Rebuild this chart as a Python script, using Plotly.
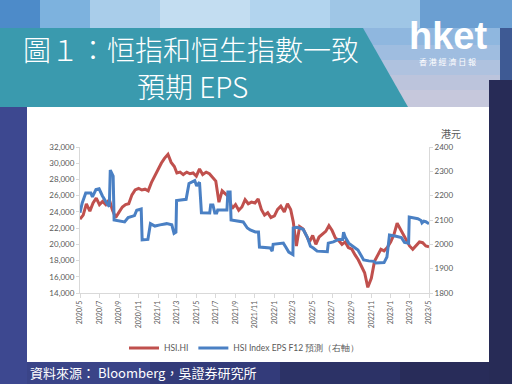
import plotly.graph_objects as go

# ---------------- data ----------------
hsi_dates = [
    "2020-05-01", "2020-05-11", "2020-05-21", "2020-06-01", "2020-06-11", "2020-06-21",
    "2020-07-01", "2020-07-11", "2020-07-21", "2020-08-01", "2020-08-11", "2020-08-21",
    "2020-09-01", "2020-09-11", "2020-09-21", "2020-10-01", "2020-10-11", "2020-10-21",
    "2020-11-01", "2020-11-11", "2020-11-21", "2020-12-01", "2020-12-11", "2020-12-21",
    "2021-01-01", "2021-01-11", "2021-01-21", "2021-02-01", "2021-02-11", "2021-02-21",
    "2021-03-01", "2021-03-11", "2021-03-21", "2021-04-01", "2021-04-11", "2021-04-21",
    "2021-05-01", "2021-05-11", "2021-05-21", "2021-06-01", "2021-06-11", "2021-06-21",
    "2021-07-01", "2021-07-11", "2021-07-21", "2021-08-01", "2021-08-11", "2021-08-21",
    "2021-09-01", "2021-09-11", "2021-09-21", "2021-10-01", "2021-10-11", "2021-10-21",
    "2021-11-01", "2021-11-11", "2021-11-21", "2021-12-01", "2021-12-11", "2021-12-21",
    "2022-01-01", "2022-01-11", "2022-01-21", "2022-02-01", "2022-02-11", "2022-02-21",
    "2022-03-01", "2022-03-11", "2022-03-21", "2022-04-01", "2022-04-11", "2022-04-21",
    "2022-05-01", "2022-05-11", "2022-05-21", "2022-06-01", "2022-06-11", "2022-06-21",
    "2022-07-01", "2022-07-11", "2022-07-21", "2022-08-01", "2022-08-11", "2022-08-21",
    "2022-09-01", "2022-09-11", "2022-09-21", "2022-10-01", "2022-10-11", "2022-10-21",
    "2022-11-01", "2022-11-11", "2022-11-21", "2022-12-01", "2022-12-11", "2022-12-21",
    "2023-01-01", "2023-01-11", "2023-01-21", "2023-02-01", "2023-02-11", "2023-02-21",
    "2023-03-01", "2023-03-11", "2023-03-21", "2023-04-01", "2023-04-11", "2023-04-21",
    "2023-05-01",
]
hsi_values = [
    23100, 23600, 25000, 24100, 25100, 25700,
    24900, 25300, 24900, 25500, 24200, 23300,
    24000, 24600, 24900, 25000, 26100, 26700,
    26900, 26700, 26800, 26600, 27600, 28400,
    29300, 30000, 30600, 31100, 30100, 29600,
    28800, 28900, 28600, 28900, 28700, 28800,
    28400, 29300, 28600, 28900, 28700, 28300,
    27800, 25200, 26600, 26200, 25800, 24400,
    24900, 24200, 24600, 25500, 25000, 25200,
    25100, 25600, 24300, 23600, 23900, 23300,
    23500, 24300, 24700, 24000, 25000, 24300,
    22800, 19800, 22200, 21900, 21000, 20300,
    21100, 20000, 20900, 21300, 21600, 22300,
    21700, 20800, 20500, 20000, 20300, 19600,
    19400, 18700, 18100, 17300, 16500, 14700,
    15800, 17900, 18600, 19400, 19200, 19600,
    20300, 21200, 22600, 21800, 21000, 20300,
    19800, 19400, 19800, 20300, 20200, 19800,
    19700,
]

eps_dates = [
    "2020-05-01", "2020-05-08", "2020-05-19", "2020-06-04", "2020-06-09", "2020-06-20",
    "2020-06-30", "2020-07-10", "2020-07-26", "2020-08-01", "2020-08-04", "2020-08-10",
    "2020-08-13", "2020-08-16", "2020-09-18", "2020-09-29", "2020-10-19", "2020-10-26",
    "2020-11-09", "2020-11-12", "2020-11-30", "2020-12-08", "2020-12-22", "2021-01-07",
    "2021-01-28", "2021-02-13", "2021-02-20", "2021-02-26", "2021-02-28", "2021-03-30",
    "2021-04-08", "2021-04-26", "2021-05-02", "2021-05-11", "2021-05-17", "2021-06-12",
    "2021-06-15", "2021-06-22", "2021-06-28", "2021-07-04", "2021-07-07", "2021-08-05",
    "2021-08-08", "2021-08-15", "2021-08-18", "2021-09-25", "2021-10-08", "2021-10-17",
    "2021-11-02", "2021-11-12", "2021-11-15", "2021-12-19", "2021-12-25", "2021-12-28",
    "2022-01-29", "2022-02-05", "2022-02-15", "2022-02-28", "2022-03-01", "2022-03-13",
    "2022-04-01", "2022-04-14", "2022-04-24", "2022-05-03", "2022-05-15", "2022-06-16",
    "2022-06-19", "2022-07-05", "2022-07-21", "2022-08-03", "2022-08-06", "2022-08-11",
    "2022-08-22", "2022-09-20", "2022-10-08", "2022-10-24", "2022-11-09", "2022-11-16",
    "2022-12-11", "2022-12-20", "2022-12-23", "2022-12-28", "2023-01-18", "2023-02-03",
    "2023-02-13", "2023-02-26", "2023-02-28", "2023-03-27", "2023-04-06", "2023-04-09",
    "2023-04-15", "2023-04-21", "2023-05-01",
]
eps_values = [
    2130, 2170, 2211, 2211, 2195, 2225,
    2228, 2200, 2165, 2155, 2305, 2290,
    2280, 2100, 2092, 2110, 2118, 2140,
    2145, 2018, 2020, 2085, 2075, 2080,
    2085, 2080, 2045, 2050, 2180, 2185,
    2250, 2262, 2240, 2255, 2130, 2129,
    2162, 2162, 2129, 2129, 2141, 2141,
    2215, 2215, 2100, 2092, 2067, 2059,
    2051, 2051, 1989, 1985, 1972, 2000,
    2005, 1990, 1968, 1958, 2067, 2070,
    2062, 2030, 1992, 1985, 1972, 1970,
    2005, 2010, 2020, 2020, 2050, 2030,
    2005, 1977, 1936, 1932, 1930, 1923,
    1925, 1948, 1989, 2038, 2033, 2028,
    2008, 2005, 2112, 2105, 2098, 2088,
    2095, 2093, 2085,
]

tick_dates = [
    "2020-05-01", "2020-07-01", "2020-09-01", "2020-11-01", "2021-01-01", "2021-03-01",
    "2021-05-01", "2021-07-01", "2021-09-01", "2021-11-01", "2022-01-01", "2022-03-01",
    "2022-05-01", "2022-07-01", "2022-09-01", "2022-11-01", "2023-01-01", "2023-03-01",
    "2023-05-01",
]
tick_labels = [
    "2020/5", "2020/7", "2020/9", "2020/11", "2021/1", "2021/3",
    "2021/5", "2021/7", "2021/9", "2021/11", "2022/1", "2022/3",
    "2022/5", "2022/7", "2022/9", "2022/11", "2023/1", "2023/3",
    "2023/5",
]

series_names = ["HSI.HI", "HSI Index EPS F12 預測（右軸）"]
title_lines = ["圖１：恒指和恒生指數一致", "預期 EPS"]
source_text = "資料來源： Bloomberg，吳證券研究所"

# ---------------- layout geometry ----------------
W, H = 512, 384
PL, PR, PT, PB = 80, 429, 147, 293  # plot area in pixels


def fx(px):
    return (px - PL) / (PR - PL)


def fy(py):
    return (PB - py) / (PB - PT)


def rect(x0, y0, x1, y1, color):
    return dict(type="rect", xref="paper", yref="paper",
                x0=fx(x0), x1=fx(x1), y0=fy(y1), y1=fy(y0),
                fillcolor=color, line=dict(width=0), layer="below")


def poly(points, color):
    d = "M " + " L ".join(f"{fx(a)},{fy(b)}" for a, b in points) + " Z"
    return dict(type="path", xref="paper", yref="paper", path=d,
                fillcolor=color, line=dict(width=0), layer="below")


shapes = []
# sky band at top
sky = [(0, 40, "#4d8bc9"), (40, 90, "#7db2de"), (90, 160, "#a9cdea"), (160, 250, "#c3ddf1"),
       (250, 330, "#b2d4ee"), (330, 420, "#9fc6e6"), (420, 512, "#6b9fd2")]
for a, b, c in sky:
    shapes.append(rect(a, 0, b, 30, c))
# right header area gradient
hdr = [(28, 45, "#8fb7df"), (45, 60, "#9fbde0"), (60, 75, "#afc2df"), (75, 90, "#bcc4dc"),
       (90, 107, "#c6c8dc")]
for a, b, c in hdr:
    shapes.append(rect(360, a, 512, b, c))
# right dark strip
shapes.append(rect(489, 80, 512, 384, "#272b56"))
shapes.append(rect(500, 28, 512, 80, "#3e5a94"))
# left strip
shapes.append(rect(0, 100, 27, 384, "#3d4890"))
# bottom band
bot = [(27, 150, "#3a4488"), (150, 280, "#333b7a"), (280, 400, "#2c3266"), (400, 489, "#282c59")]
for a, b, c in bot:
    shapes.append(rect(a, 362, b, 384, c))
# teal title banner
shapes.append(poly([(0, 28), (363, 28), (408, 107), (0, 107)], "#3a9aae"))
# white chart panel
shapes.append(rect(27, 107, 489, 362, "#ffffff"))

AXIS_GRAY = "#d9d9d9"
TEXT_GRAY = "#595959"
FONT = "Lato, Liberation Sans, sans-serif"
CJK = "Noto Sans CJK TC, Noto Sans CJK SC, sans-serif"

fig = go.Figure()
fig.add_trace(go.Scatter(x=hsi_dates, y=hsi_values, name=series_names[0], mode="lines",
                         line=dict(color="#c0504d", width=3), yaxis="y"))
fig.add_trace(go.Scatter(x=eps_dates, y=eps_values, name=series_names[1], mode="lines",
                         line=dict(color="#4a80c4", width=3), yaxis="y2"))

annotations = [
    dict(text=title_lines[0], x=fx(191), y=fy(49), xref="paper", yref="paper",
         showarrow=False, font=dict(family=CJK, size=28, color="white", weight=300),
         xanchor="center", yanchor="middle"),
    dict(text=title_lines[1], x=fx(192), y=fy(86), xref="paper", yref="paper",
         showarrow=False, font=dict(family=CJK, size=28, color="white", weight=300),
         xanchor="center", yanchor="middle"),
    dict(text="<b>hket</b>", x=fx(448), y=fy(36), xref="paper", yref="paper",
         showarrow=False, font=dict(family="Liberation Sans, Arial, sans-serif", size=38, color="white"),
         xanchor="center", yanchor="middle"),
    dict(text="香 港 經 濟 日 報", x=fx(448), y=fy(62), xref="paper", yref="paper",
         showarrow=False, font=dict(family=CJK, size=8, color="white"),
         xanchor="center", yanchor="middle"),
    dict(text="港元", x=fx(439), y=fy(133), xref="paper", yref="paper",
         showarrow=False, font=dict(family=CJK, size=10, color=TEXT_GRAY),
         xanchor="left", yanchor="middle"),
    dict(text=source_text, x=fx(28), y=fy(372), xref="paper", yref="paper",
         showarrow=False, font=dict(family=CJK, size=13, color="white"),
         xanchor="left", yanchor="middle"),
]

fig.update_layout(
    width=W, height=H,
    margin=dict(l=PL, r=W - PR, t=PT, b=H - PB, pad=0),
    paper_bgcolor="#2a2e5a",
    plot_bgcolor="rgba(0,0,0,0)",
    shapes=shapes,
    annotations=annotations,
    showlegend=True,
    legend=dict(orientation="h", x=fx(124), y=fy(348), xanchor="left", yanchor="middle",
                font=dict(family=FONT, size=8.5, color=TEXT_GRAY), bgcolor="rgba(0,0,0,0)",
                itemwidth=30, tracegroupgap=0),
    xaxis=dict(type="date", range=["2020-05-01", "2023-05-01"], tickmode="array",
               tickvals=tick_dates, ticktext=tick_labels, tickangle=-90,
               tickfont=dict(family=FONT, size=7, color=TEXT_GRAY),
               showgrid=False, zeroline=False, showline=True, linecolor=AXIS_GRAY, linewidth=1,
               ticks="outside", ticklen=4, tickcolor=AXIS_GRAY, automargin=False),
    yaxis=dict(range=[14000, 32000], dtick=2000, tick0=14000, tickformat=",d",
               tickfont=dict(family=FONT, size=8, color=TEXT_GRAY),
               showgrid=False, zeroline=False, showline=True, linecolor=AXIS_GRAY, linewidth=1,
               ticks="outside", ticklen=3, tickcolor=AXIS_GRAY, automargin=False),
    yaxis2=dict(range=[1800, 2400], dtick=100, tick0=1800, tickformat="d", overlaying="y",
                side="right", tickfont=dict(family=FONT, size=8, color=TEXT_GRAY),
                showgrid=False, zeroline=False, showline=True, linecolor=AXIS_GRAY, linewidth=1,
                ticks="outside", ticklen=3, tickcolor=AXIS_GRAY, automargin=False),
)

fig.write_html("out.html",
               config={"displayModeBar": False},
               post_script="document.body.style.margin='0';document.body.style.padding='0';"
                           "document.documentElement.style.overflow='hidden';")
